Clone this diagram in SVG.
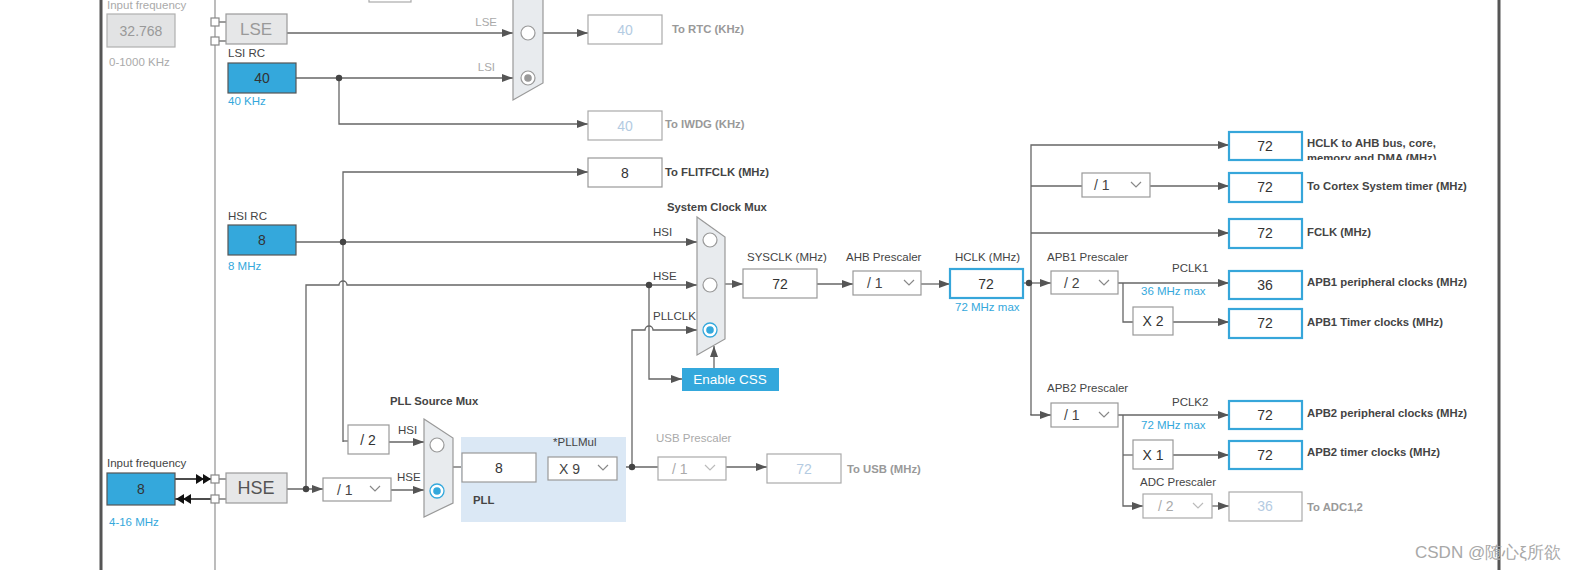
<svg xmlns="http://www.w3.org/2000/svg" width="1590" height="570" viewBox="0 0 1590 570">
<defs>
<marker id="ah" viewBox="0 0 11 8" refX="11" refY="4" markerWidth="11" markerHeight="8" markerUnits="userSpaceOnUse" orient="auto"><path d="M0,0 L11,4 L0,8 z" fill="#555"/></marker>
<clipPath id="clipAhb"><rect x="1300" y="130" width="200" height="30"/></clipPath>
</defs>
<style>
text{font-family:"Liberation Sans",Arial,sans-serif}
.ln{fill:none;stroke:#666;stroke-width:1.3}
.arr{fill:none;stroke:#666;stroke-width:1.3;marker-end:url(#ah)}
.box{fill:#fff;stroke:#999;stroke-width:1.2}
.gbox{fill:#fff;stroke:#aaa;stroke-width:1.2}
.obox{fill:#fff;stroke:#36a6da;stroke-width:2.2}
.blue{fill:#34a8dc;stroke:#555;stroke-width:1.2}
.grey{fill:#e6e7e8;stroke:#9a9a9a;stroke-width:1.2}
.mux{fill:#e8ebee;stroke:#999;stroke-width:1.2}
.num{font-size:14px;fill:#333;text-anchor:middle}
.gnum{font-size:14px;fill:#b4cbe2;text-anchor:middle}
.lbl{font-size:11.5px;fill:#444}
.glbl{font-size:11.5px;fill:#aaa}
.blbl{font-size:11.5px;fill:#34a8dc}
.bold{font-size:11.3px;font-weight:bold;fill:#444}
.gbold{font-size:11.3px;font-weight:bold;fill:#999}
.dd{font-size:14px;fill:#444}
.gdd{font-size:14px;fill:#aaa}
.chev{fill:none;stroke:#888;stroke-width:1.2}
.gchev{fill:none;stroke:#bbb;stroke-width:1.2}
.dot{fill:#444}
.sq{fill:#fff;stroke:#888;stroke-width:1.2}
.c{fill:#fff;stroke:#999;stroke-width:1.2}
</style>
<rect width="1590" height="570" fill="#fff"/>

<g id="frame">
<line x1="101" y1="0" x2="101" y2="570" stroke="#555" stroke-width="3"/>
<line x1="215" y1="0" x2="215" y2="570" stroke="#999" stroke-width="1.3"/>
<line x1="1499" y1="0" x2="1499" y2="570" stroke="#555" stroke-width="3"/>
<rect x="369" y="-10" width="42" height="12" class="gbox"/>
</g>

<g id="connectors">
<line x1="219" y1="22" x2="226" y2="22" class="ln"/>
<line x1="219" y1="41" x2="226" y2="41" class="ln"/>
<line x1="287" y1="33" x2="513" y2="33" class="arr"/>
<line x1="296" y1="78" x2="513" y2="78" class="arr"/>
<path d="M339,78 V124 H588" class="arr"/>
<line x1="543" y1="33" x2="588" y2="33" class="arr"/>
<line x1="296" y1="242" x2="697" y2="242" class="arr"/>
<path d="M343,442 V172 H588" class="arr"/>
<path d="M343,441 H348" class="ln"/>
<path d="M306,489 V285 H339 A4,4 0 0 1 347,285 H697" class="arr"/>
<path d="M649,285 V379 H682" class="arr"/>
<path d="M632,467 V330 H645 A4,4 0 0 1 653,330 H697" class="arr"/>
<line x1="714" y1="368" x2="714" y2="346" class="arr"/>
<line x1="725" y1="284" x2="743" y2="284" class="arr"/>
<line x1="817" y1="284" x2="853" y2="284" class="arr"/>
<line x1="921" y1="284" x2="950" y2="284" class="arr"/>
<line x1="1023" y1="283" x2="1051" y2="283" class="arr"/>
<path d="M1031,415 V145 H1229" class="arr"/>
<line x1="1031" y1="186" x2="1082" y2="186" class="ln"/>
<line x1="1150" y1="186" x2="1229" y2="186" class="arr"/>
<line x1="1031" y1="233" x2="1229" y2="233" class="arr"/>
<line x1="1118" y1="283" x2="1229" y2="283" class="arr"/>
<path d="M1123,283 V322 H1133" class="ln"/>
<line x1="1173" y1="322" x2="1229" y2="322" class="arr"/>
<path d="M1031,414 V415 H1051" class="arr"/>
<line x1="1118" y1="415" x2="1229" y2="415" class="arr"/>
<path d="M1123,415 V506 H1143" class="arr"/>
<line x1="1123" y1="455" x2="1133" y2="455" class="ln"/>
<line x1="1173" y1="455" x2="1229" y2="455" class="arr"/>
<line x1="1212" y1="506" x2="1229" y2="506" class="arr"/>
<line x1="175" y1="479" x2="211" y2="479" stroke="#111" stroke-width="1.3"/>
<path d="M196,474 L204,479 L196,484 z M203,474 L211,479 L203,484 z" fill="#111"/>
<line x1="175" y1="499" x2="211" y2="499" stroke="#111" stroke-width="1.3"/>
<path d="M184,494 L176,499 L184,504 z M191,494 L183,499 L191,504 z" fill="#111"/>
<line x1="219" y1="479" x2="226" y2="479" class="ln"/>
<line x1="219" y1="499" x2="226" y2="499" class="ln"/>
<line x1="287" y1="489" x2="323" y2="489" class="arr"/>
<line x1="389" y1="442" x2="424" y2="442" class="arr"/>
<line x1="391" y1="490" x2="424" y2="490" class="arr"/>
<line x1="453" y1="467" x2="462" y2="467" class="ln"/>
<line x1="536" y1="467" x2="548" y2="467" class="ln"/>
<line x1="617" y1="467" x2="658" y2="467" class="ln"/>
<line x1="726" y1="467" x2="767" y2="467" class="arr"/>
<circle cx="339" cy="78" r="3.2" class="dot"/>
<circle cx="343" cy="242" r="3.2" class="dot"/>
<circle cx="649" cy="285" r="3.2" class="dot"/>
<circle cx="306" cy="489" r="3.2" class="dot"/>
<circle cx="632" cy="467" r="3.2" class="dot"/>
<circle cx="1029" cy="283" r="3.2" class="dot"/>
</g>

<g id="lse-input">
<text x="107" y="9" class="glbl">Input frequency</text>
<rect x="107" y="14" width="68" height="33" fill="#e2e3e4" stroke="#b0b0b0" stroke-width="1.2"/>
<text x="141" y="36" font-size="14" fill="#999" text-anchor="middle">32.768</text>
<text x="109" y="66" class="glbl">0-1000 KHz</text>
<rect x="211" y="18" width="8" height="8" class="sq"/>
<rect x="211" y="37" width="8" height="8" class="sq"/>
</g>
<g id="lse">
<rect x="226" y="14" width="61" height="30" class="grey"/>
<text x="256" y="35" font-size="17" fill="#9a9a9a" text-anchor="middle">LSE</text>
</g>
<g id="lsi">
<text x="228" y="57" class="lbl" font-size="12">LSI RC</text>
<rect x="228" y="63" width="68" height="30" class="blue"/>
<text x="262" y="83" class="num">40</text>
<text x="228" y="105" class="blbl">40 KHz</text>
</g>
<g id="rtc-mux">
<polygon points="513,-20 543,-20 543,83 513,100" class="mux"/>
<circle cx="528" cy="33" r="7" class="c"/>
<circle cx="528" cy="78" r="7" class="c"/>
<circle cx="528" cy="78" r="3.8" fill="#999"/>
<text x="497" y="26" class="glbl" text-anchor="end">LSE</text>
<text x="495" y="71" class="glbl" text-anchor="end">LSI</text>
</g>
<g id="rtc">
<rect x="588" y="15" width="74" height="29" class="gbox"/>
<text x="625" y="35" class="gnum">40</text>
<text x="672" y="33" class="gbold">To RTC (KHz)</text>
</g>
<g id="iwdg">
<rect x="588" y="111" width="74" height="29" class="gbox"/>
<text x="625" y="131" class="gnum">40</text>
<text x="665" y="128" class="gbold">To IWDG (KHz)</text>
</g>
<g id="flitf">
<rect x="588" y="158" width="74" height="29" class="box"/>
<text x="625" y="178" class="num">8</text>
<text x="665" y="176" class="bold">To FLITFCLK (MHz)</text>
</g>
<g id="hsi">
<text x="228" y="220" class="lbl" font-size="12">HSI RC</text>
<rect x="228" y="225" width="68" height="30" class="blue"/>
<text x="262" y="245" class="num">8</text>
<text x="228" y="270" class="blbl">8 MHz</text>
</g>
<g id="sys-mux">
<text x="667" y="211" class="bold">System Clock Mux</text>
<polygon points="697,217 725,237 725,339 697,355" class="mux"/>
<circle cx="710" cy="240" r="7" class="c"/>
<circle cx="710" cy="285" r="7" class="c"/>
<circle cx="710" cy="330" r="7" fill="#fff" stroke="#34a8dc" stroke-width="1.3"/>
<circle cx="710" cy="330" r="3.8" fill="#34a8dc"/>
<text x="653" y="236" class="lbl" fill="#333">HSI</text>
<text x="653" y="280" class="lbl" fill="#333">HSE</text>
<text x="653" y="320" class="lbl" fill="#333">PLLCLK</text>
</g>
<g id="css">
<rect x="682" y="368" width="97" height="23" fill="#34a8dc"/>
<text x="730" y="384" font-size="13.5" fill="#fff" text-anchor="middle">Enable CSS</text>
</g>
<g id="sysclk">
<text x="747" y="261" class="lbl">SYSCLK (MHz)</text>
<rect x="743" y="269" width="74" height="29" class="box"/>
<text x="780" y="289" class="num">72</text>
</g>
<g id="ahb">
<text x="846" y="261" class="lbl">AHB Prescaler</text>
<rect x="853" y="271" width="68" height="24" class="box"/>
<text x="867" y="288" class="dd">/ 1</text>
<polyline points="904,280 909,285 914,280" class="chev"/>
</g>
<g id="hclk">
<text x="955" y="261" class="lbl">HCLK (MHz)</text>
<rect x="950" y="269" width="73" height="29" class="obox"/>
<text x="986" y="289" class="num">72</text>
<text x="955" y="311" class="blbl">72 MHz max</text>
</g>
<g id="ahb-out">
<rect x="1229" y="132" width="73" height="28" class="obox"/>
<text x="1265" y="151" class="num">72</text>
<g clip-path="url(#clipAhb)">
<text x="1307" y="147" class="bold">HCLK to AHB bus, core,</text>
<text x="1307" y="162" class="bold">memory and DMA (MHz)</text>
</g>
</g>
<g id="cortex">
<rect x="1082" y="173" width="68" height="24" class="box"/>
<text x="1094" y="190" class="dd">/ 1</text>
<polyline points="1131,182 1136,187 1141,182" class="chev"/>
<rect x="1229" y="173" width="73" height="29" class="obox"/>
<text x="1265" y="192" class="num">72</text>
<text x="1307" y="190" class="bold">To Cortex System timer (MHz)</text>
</g>
<g id="fclk">
<rect x="1229" y="219" width="73" height="29" class="obox"/>
<text x="1265" y="238" class="num">72</text>
<text x="1307" y="236" class="bold">FCLK (MHz)</text>
</g>
<g id="apb1">
<text x="1047" y="261" class="lbl">APB1 Prescaler</text>
<rect x="1051" y="271" width="67" height="23" class="box"/>
<text x="1064" y="288" class="dd">/ 2</text>
<polyline points="1099,280 1104,285 1109,280" class="chev"/>
<text x="1172" y="272" class="lbl" fill="#333">PCLK1</text>
<text x="1141" y="295" class="blbl">36 MHz max</text>
<rect x="1229" y="271" width="73" height="28" class="obox"/>
<text x="1265" y="290" class="num">36</text>
<text x="1307" y="286" class="bold">APB1 peripheral clocks (MHz)</text>
<rect x="1133" y="307" width="40" height="28" class="box"/>
<text x="1153" y="326" class="num">X 2</text>
<rect x="1229" y="309" width="73" height="29" class="obox"/>
<text x="1265" y="328" class="num">72</text>
<text x="1307" y="326" class="bold">APB1 Timer clocks (MHz)</text>
</g>
<g id="apb2">
<text x="1047" y="392" class="lbl">APB2 Prescaler</text>
<rect x="1051" y="403" width="67" height="24" class="box"/>
<text x="1064" y="420" class="dd">/ 1</text>
<polyline points="1099,412 1104,417 1109,412" class="chev"/>
<text x="1172" y="406" class="lbl" fill="#333">PCLK2</text>
<text x="1141" y="429" class="blbl">72 MHz max</text>
<rect x="1229" y="401" width="73" height="28" class="obox"/>
<text x="1265" y="420" class="num">72</text>
<text x="1307" y="417" class="bold">APB2 peripheral clocks (MHz)</text>
<rect x="1133" y="440" width="40" height="29" class="box"/>
<text x="1153" y="460" class="num">X 1</text>
<rect x="1229" y="441" width="73" height="28" class="obox"/>
<text x="1265" y="460" class="num">72</text>
<text x="1307" y="456" class="bold">APB2 timer clocks (MHz)</text>
</g>
<g id="adc">
<text x="1140" y="486" class="lbl">ADC Prescaler</text>
<rect x="1143" y="494" width="69" height="24" class="gbox"/>
<text x="1158" y="511" class="gdd">/ 2</text>
<polyline points="1193,503 1198,508 1203,503" class="gchev"/>
<rect x="1229" y="492" width="73" height="29" class="gbox"/>
<text x="1265" y="511" class="gnum">36</text>
<text x="1307" y="511" class="gbold">To ADC1,2</text>
</g>
<g id="hse-input">
<text x="107" y="467" class="lbl" fill="#666">Input frequency</text>
<rect x="107" y="473" width="68" height="32" class="blue"/>
<text x="141" y="494" class="num">8</text>
<text x="109" y="526" class="blbl">4-16 MHz</text>
<rect x="211" y="475" width="8" height="8" class="sq"/>
<rect x="211" y="495" width="8" height="8" class="sq"/>
</g>
<g id="hse">
<rect x="226" y="473" width="61" height="30" class="grey"/>
<text x="256" y="494" font-size="18" fill="#555" text-anchor="middle">HSE</text>
</g>
<g id="hse-div">
<rect x="323" y="478" width="68" height="23" class="box"/>
<text x="337" y="495" class="dd">/ 1</text>
<polyline points="370,486 375,491 380,486" class="chev"/>
</g>
<g id="hsi-div">
<rect x="348" y="425" width="41" height="29" class="box"/>
<text x="368" y="445" class="num">/ 2</text>
</g>
<g id="pll-mux">
<text x="390" y="405" class="bold">PLL Source Mux</text>
<polygon points="424,419 453,438 453,503 424,517" class="mux"/>
<circle cx="437" cy="445" r="7" class="c"/>
<circle cx="437" cy="491" r="7" fill="#fff" stroke="#34a8dc" stroke-width="1.3"/>
<circle cx="437" cy="491" r="3.8" fill="#34a8dc"/>
<text x="398" y="434" class="lbl" fill="#333">HSI</text>
<text x="397" y="481" class="lbl" fill="#333">HSE</text>
</g>
<g id="pll">
<rect x="461" y="437" width="165" height="85" fill="#dbe8f5"/>
<rect x="462" y="453" width="74" height="29" class="box"/>
<text x="499" y="473" class="num">8</text>
<text x="553" y="446" class="lbl" fill="#333">*PLLMul</text>
<rect x="548" y="457" width="69" height="23" class="box"/>
<text x="559" y="474" class="dd">X 9</text>
<polyline points="598,465 603,470 608,465" class="chev"/>
<text x="473" y="504" class="bold" fill="#555">PLL</text>
</g>
<g id="usb">
<text x="656" y="442" class="glbl">USB Prescaler</text>
<rect x="658" y="457" width="68" height="23" class="gbox"/>
<text x="672" y="474" class="gdd">/ 1</text>
<polyline points="705,465 710,470 715,465" class="gchev"/>
<rect x="767" y="454" width="74" height="29" class="gbox"/>
<text x="804" y="474" class="gnum">72</text>
<text x="847" y="473" class="gbold">To USB (MHz)</text>
</g>
<g id="watermark">
<text x="1415" y="558" font-size="17" fill="#a8a8a8" font-family="'Liberation Sans','Noto Sans CJK SC',sans-serif">CSDN @随心ξ所欲</text>
</g>
</svg>
